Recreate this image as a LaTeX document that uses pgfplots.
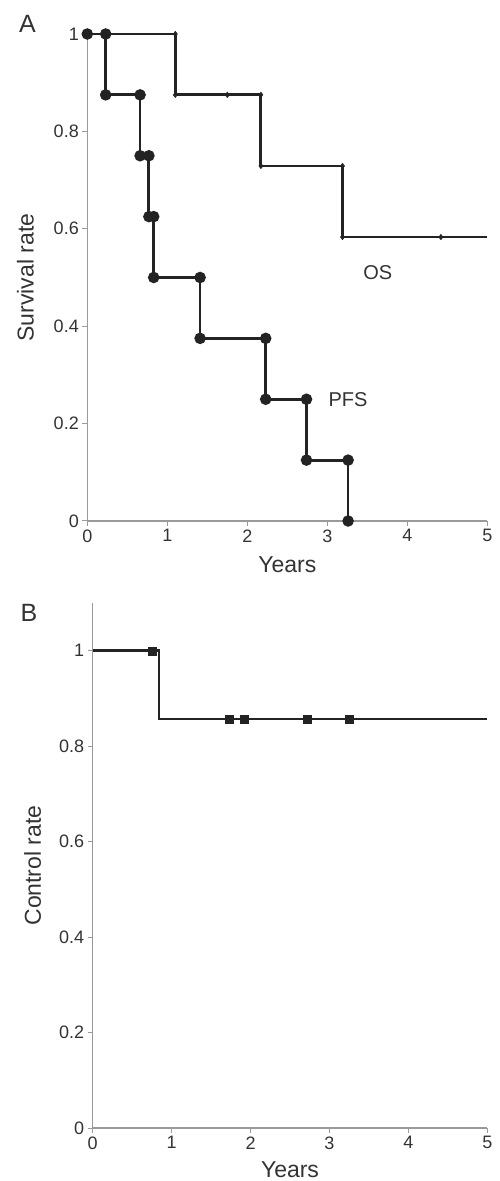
\documentclass[border=0pt]{standalone}
\usepackage{fontspec}
\setmainfont{Liberation Sans}
\usepackage{pgfplots}
\pgfplotsset{compat=1.18}

\definecolor{axgray}{HTML}{9A9A9A}
\definecolor{curve}{HTML}{232323}
\definecolor{txt}{HTML}{333333}

\pgfplotsset{km/.style={
  scale only axis,
  axis x line=bottom, axis y line=left,
  axis line style={-, axgray, line width=1.3pt},
  xmin=0, xmax=5, xtick={0,1,2,3,4,5},
  ytick={0,0.2,0.4,0.6,0.8,1},
  tick style={axgray, line width=1pt},
  tick align=outside, major tick length=5pt,
  tick label style={font=\fontsize{18}{20}\selectfont, text=txt},
  /pgf/number format/assume math mode=true,
  label style={font=\fontsize{23}{26}\selectfont, text=txt},
  clip=false,
}}

\begin{document}
\begin{tikzpicture}
\path[use as bounding box] (0,0) rectangle (500pt,1181pt);

% panel A
\begin{axis}[km,
  at={(87.3pt,660pt)}, anchor=south west,
  width=400pt, height=487pt,
  ymin=0, ymax=1,
  xlabel={Years}, ylabel={Survival rate},
  xlabel style={at={(axis description cs:0.5,-0.09)}, anchor=center},
  ylabel style={at={(axis description cs:-0.155,0.5)}, anchor=center},
]
% OS
\addplot[curve, line width=2.8pt, line join=miter] coordinates {
  (0,1) (1.10,1) (1.10,0.875) (2.17,0.875) (2.17,0.729)
  (3.19,0.729) (3.19,0.583) (5,0.583)
};
\addplot[only marks, mark=diamond*, mark size=2.8pt, curve] coordinates {
  (1.10,1) (1.10,0.875) (1.75,0.875) (2.17,0.875) (2.17,0.729)
  (3.19,0.729) (3.19,0.583) (4.42,0.583)
};
% PFS
\addplot[curve, line width=2.8pt, line join=miter,
  mark=*, mark size=4.3pt, mark options={solid}] coordinates {
  (0,1) (0.23,1) (0.23,0.875) (0.66,0.875) (0.66,0.75)
  (0.77,0.75) (0.77,0.625) (0.83,0.625) (0.83,0.5)
  (1.41,0.5) (1.41,0.375) (2.23,0.375) (2.23,0.25)
  (2.74,0.25) (2.74,0.125) (3.26,0.125) (3.26,0)
};
\node[font=\fontsize{20}{22}\selectfont, text=txt] at (axis cs:3.63,0.511) {OS};
\node[font=\fontsize{20}{22}\selectfont, text=txt] at (axis cs:3.26,0.25) {PFS};
\end{axis}

% panel B
\begin{axis}[km,
  at={(92.7pt,53pt)}, anchor=south west,
  width=394.6pt, height=525pt,
  ymin=0, ymax=1.1,
  xlabel={Years}, ylabel={Control rate},
  xlabel style={at={(axis description cs:0.5,-0.08)}, anchor=center},
  ylabel style={at={(axis description cs:-0.152,0.5)}, anchor=center},
]
\addplot[curve, line width=2.8pt, line join=miter] coordinates {
  (0,1) (0.84,1) (0.84,0.857) (5,0.857)
};
\addplot[only marks, mark=square*, mark size=4pt, curve] coordinates {
  (0.76,1) (1.73,0.857) (1.92,0.857) (2.72,0.857) (3.25,0.857)
};
\end{axis}

\node[font=\fontsize{25}{28}\selectfont, text=txt] at (27.5pt,1157pt) {A};
\node[font=\fontsize{25}{28}\selectfont, text=txt] at (29pt,568pt) {B};
\end{tikzpicture}
\end{document}
